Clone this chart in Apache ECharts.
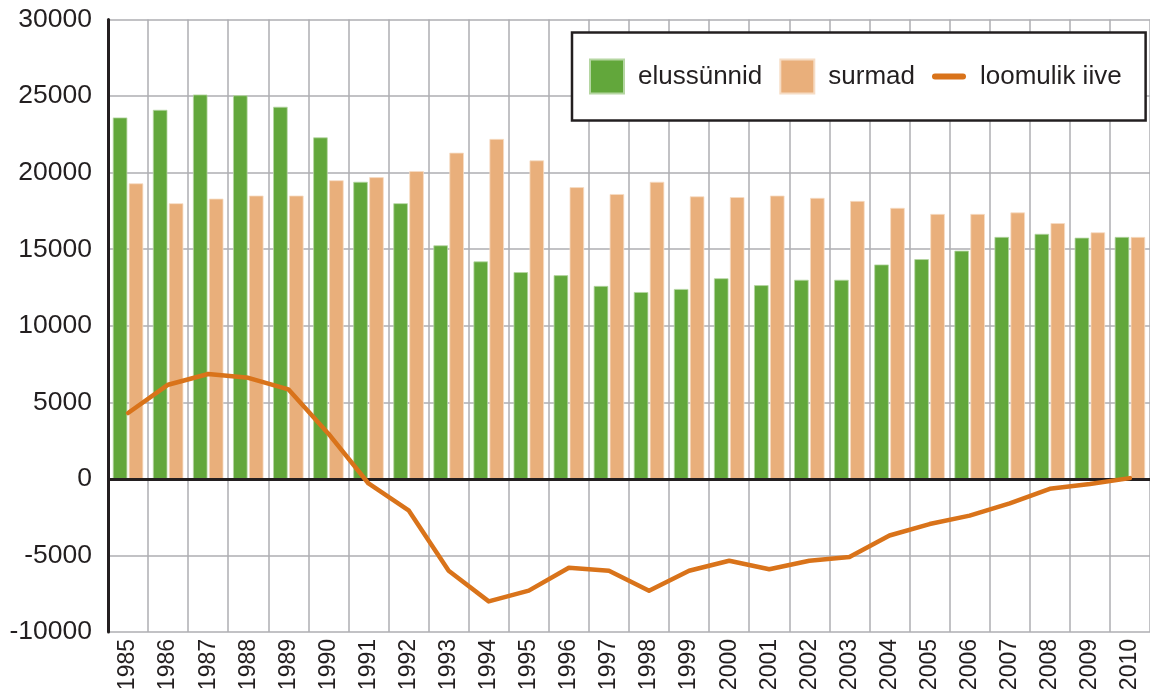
<!DOCTYPE html>
<html>
<head>
<meta charset="utf-8">
<script src="https://cdn.jsdelivr.net/npm/echarts@6/dist/echarts.min.js"></script>
<style>
html,body{margin:0;padding:0;background:#fff;}
#chart{width:1150px;height:695px;}
</style>
</head>
<body>
<div id="chart"></div>
<script>
var years = ['1985','1986','1987','1988','1989','1990','1991','1992','1993','1994','1995','1996','1997','1998','1999','2000','2001','2002','2003','2004','2005','2006','2007','2008','2009','2010'];
var births = [23600, 24100, 25100, 25050, 24300, 22300, 19400, 18000, 15250, 14200, 13500, 13300, 12600, 12200, 12400, 13100, 12650, 13000, 13000, 14000, 14350, 14900, 15800, 16000, 15750, 15800];
var deaths = [19300, 18000, 18300, 18500, 18500, 19500, 19700, 20100, 21300, 22200, 20800, 19050, 18600, 19400, 18450, 18400, 18500, 18350, 18150, 17700, 17300, 17300, 17400, 16700, 16100, 15800];
var natural = [4300, 6150, 6850, 6600, 5850, 2950, -300, -2050, -6000, -8000, -7300, -5800, -6000, -7300, -6000, -5350, -5900, -5350, -5100, -3700, -2950, -2400, -1600, -650, -330, 50];
var seriesNames = ['elussünnid', 'surmad', 'loomulik iive'];

var FONT = '"Liberation Sans", Arial, sans-serif';
var TXT = '#231f20';
var chart = echarts.init(document.getElementById('chart'), null, {renderer: 'canvas'});
chart.setOption({
  animation: false,
  backgroundColor: '#ffffff',
  textStyle: {fontFamily: FONT, color: TXT},
  grid: {left: 108, top: 19.5, width: 1048, height: 612.5, containLabel: false},
  legend: {
    left: 572, top: 32.5,
    orient: 'horizontal',
    backgroundColor: '#ffffff',
    borderColor: TXT, borderWidth: 2.5,
    padding: [26, 24, 26, 17],
    itemWidth: 34, itemHeight: 34, itemGap: 17,
    textStyle: {fontSize: 26, color: TXT, fontFamily: FONT, padding: [0, 0, 0, 9]},
    data: [
      {name: seriesNames[0], icon: 'rect'},
      {name: seriesNames[1], icon: 'rect'},
      {name: seriesNames[2], icon: 'path://M3,0H31A3,3,0,0,1,31,6H3A3,3,0,0,1,3,0Z'}
    ]
  },
  xAxis: {
    type: 'category',
    data: years,
    boundaryGap: true,
    axisLine: {show: false, onZero: false},
    axisTick: {show: false},
    axisLabel: {rotate: 90, fontSize: 23, margin: 7, interval: 0, color: TXT, fontFamily: FONT},
    splitLine: {show: true, interval: 0, lineStyle: {color: '#aeaeb2', width: 1.5}}
  },
  yAxis: {
    type: 'value',
    min: -10000, max: 30000, interval: 5000,
    axisLine: {show: true, onZero: false, lineStyle: {color: TXT, width: 3}},
    axisTick: {show: false},
    axisLabel: {fontSize: 26.5, margin: 16, color: TXT, fontFamily: FONT,
      formatter: function (v) { return String(v); }},
    splitLine: {show: true, lineStyle: {color: '#aeaeb2', width: 1.5}}
  },
  series: [
    {
      name: seriesNames[0], type: 'bar', data: births,
      barWidth: 14.5, barGap: '10%',
      itemStyle: {color: '#62a73b', borderColor: '#b5d6a2', borderWidth: 0.8},
      z: 2,
      markLine: {
        silent: true, symbol: 'none', label: {show: false},
        lineStyle: {color: TXT, width: 3, type: 'solid'},
        data: [{yAxis: 0}]
      }
    },
    {
      name: seriesNames[1], type: 'bar', data: deaths,
      barWidth: 14.5,
      itemStyle: {color: '#e9af7b', borderColor: '#f6dcc4', borderWidth: 0.8},
      z: 2
    },
    {
      name: seriesNames[2], type: 'line', data: natural,
      showSymbol: false, symbol: 'none',
      itemStyle: {color: '#d9731a'},
      lineStyle: {color: '#d9731a', width: 4.5, cap: 'round', join: 'round'},
      z: 5
    }
  ]
});
</script>
</body>
</html>
